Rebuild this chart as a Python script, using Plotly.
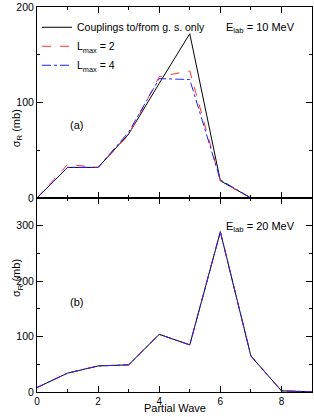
import plotly.graph_objects as go
from plotly.subplots import make_subplots

waves_a = [0, 1, 2, 3, 4, 5, 6, 7, 8]
gs_only_a = [0, 32, 32, 67, 120, 172, 18, 0, 0]
lmax2_a = [0, 35, 32, 66, 127, 133, 18, 0, 0]
lmax4_a = [0, 32, 32, 69, 125, 124, 19, 0, 0]

waves_b = [0, 1, 2, 3, 4, 5, 6, 7, 8, 9]
gs_only_b = [8, 34, 47, 49, 104, 85, 289, 65, 2, 0.5]
lmax2_b = [8, 34, 47, 49, 104, 85, 289, 65, 2, 0.5]
lmax4_b = [8, 34, 47, 49, 104, 85, 289, 65, 2, 0.5]

x_ticks = [0, 2, 4, 6, 8]
y_ticks_a = [0, 100, 200]
y_ticks_b = [0, 100, 200, 300]

FONT = "Liberation Sans, Arial, sans-serif"

fig = make_subplots(rows=2, cols=1, shared_xaxes=False, vertical_spacing=0)

fig.add_trace(go.Scatter(x=waves_a, y=gs_only_a, mode="lines", name="Couplings to/from g. s. only",
                         line=dict(color="black", width=1)), row=1, col=1)
fig.add_trace(go.Scatter(x=waves_a, y=lmax2_a, mode="lines", name="L<sub>max</sub> = 2",
                         line=dict(color="#ff3030", width=1, dash="dash")), row=1, col=1)
fig.add_trace(go.Scatter(x=waves_a, y=lmax4_a, mode="lines", name="L<sub>max</sub> = 4",
                         line=dict(color="#2020ff", width=1, dash="dashdot")), row=1, col=1)

fig.add_trace(go.Scatter(x=waves_b, y=gs_only_b, mode="lines", showlegend=False,
                         line=dict(color="black", width=1)), row=2, col=1)
fig.add_trace(go.Scatter(x=waves_b, y=lmax2_b, mode="lines", showlegend=False,
                         line=dict(color="#ff3030", width=1, dash="dash")), row=2, col=1)
fig.add_trace(go.Scatter(x=waves_b, y=lmax4_b, mode="lines", showlegend=False,
                         line=dict(color="#2020ff", width=1, dash="dashdot")), row=2, col=1)

axis_common = dict(showline=True, linecolor="black", linewidth=1, mirror="allticks",
                   ticks="inside", ticklen=6, tickcolor="black", tickwidth=1,
                   showgrid=False, zeroline=False,
                   tickfont=dict(family=FONT, size=10.5, color="black"))

fig.update_xaxes(range=[0, 9], tickvals=x_ticks, minor=dict(ticks="inside", dtick=1, ticklen=3, tickcolor="black"),
                 **axis_common)
fig.update_xaxes(showticklabels=False, row=1, col=1)
fig.update_xaxes(tickfont=dict(family=FONT, size=10, color="black"), row=2, col=1)
fig.update_yaxes(**axis_common)
fig.update_yaxes(range=[0, 200], tickvals=y_ticks_a, minor=dict(ticks="inside", dtick=50, ticklen=3, tickcolor="black"),
                 row=1, col=1)
fig.update_yaxes(range=[0, 350], tickvals=y_ticks_b, minor=dict(ticks="inside", dtick=50, ticklen=3, tickcolor="black"),
                 row=2, col=1)

fig.update_layout(
    width=314, height=417,
    margin=dict(l=37, r=2, t=7, b=25),
    plot_bgcolor="white", paper_bgcolor="white",
    font=dict(family=FONT, size=11, color="black"),
    legend=dict(x=0.0, y=0.985, xanchor="left", yanchor="top", bgcolor="rgba(0,0,0,0)",
                font=dict(family=FONT, size=10.5), tracegroupgap=0, itemwidth=30),
)
fig.update_layout(yaxis=dict(domain=[0.504, 1]), yaxis2=dict(domain=[0, 0.504]))

ann = dict(showarrow=False, font=dict(family=FONT, size=11, color="black"))
fig.add_annotation(x=0.945, y=0.945, xref="paper", yref="paper", xanchor="right", yanchor="middle",
                   text="E<sub>lab</sub> = 10 MeV", **ann)
fig.add_annotation(x=0.945, y=0.4286, xref="paper", yref="paper", xanchor="right", yanchor="middle",
                   text="E<sub>lab</sub> = 20 MeV", **ann)
fig.add_annotation(x=0.113, y=0.714, xref="paper", yref="paper", text="(a)", **ann)
fig.add_annotation(x=0.113, y=0.213, xref="paper", yref="paper", text="(b)", **ann)
fig.add_annotation(x=0.5, y=-0.0635, xref="paper", yref="paper", yanchor="bottom",
                   text="Partial Wave", **ann)
fig.add_annotation(x=-0.105, y=0.74, xref="paper", yref="paper", textangle=-90,
                   text="σ<sub>R</sub> (mb)", **ann)
fig.add_annotation(x=-0.105, y=0.242, xref="paper", yref="paper", textangle=-90,
                   text="σ<sub>R</sub> (mb)", **ann)

fig.write_html("out.html", config={"displayModeBar": False},
               post_script="document.body.style.margin='0';document.body.style.overflow='hidden';")
